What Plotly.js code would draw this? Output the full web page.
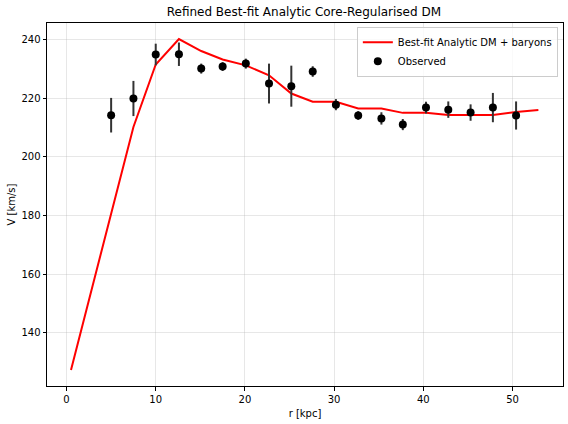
<!DOCTYPE html>
<html>
<head>
<meta charset="utf-8">
<script src="https://cdn.plot.ly/plotly-3.0.1.min.js"></script>
<style>html,body{margin:0;padding:0;background:#fff;}#chart{width:568px;height:424px;}</style>
</head>
<body>
<div id="chart"></div>
<script>
// Observed data
const obsR = [5.0, 7.5, 10.0, 12.6, 15.1, 17.5, 20.1, 22.7, 25.2, 27.6, 30.2, 32.7, 35.3, 37.7, 40.3, 42.8, 45.3, 47.8, 50.4];
const obsV = [214.2, 219.9, 234.9, 235.0, 230.1, 230.8, 231.8, 225.0, 224.1, 229.1, 217.8, 214.1, 213.1, 211.0, 216.8, 216.1, 215.1, 216.8, 214.1];
const obsErr = [5.9, 6.0, 3.7, 4.0, 1.7, 1.5, 1.7, 6.8, 7.0, 1.8, 1.9, 1.5, 2.1, 1.9, 2.0, 2.8, 2.8, 5.0, 4.8];

// Best-fit model curve
const fitR = [0.5, 7.5, 10.0, 12.6, 15.1, 17.5, 20.1, 22.7, 25.2, 27.6, 30.2, 32.7, 35.3, 37.7, 40.3, 42.8, 45.3, 47.8, 50.4, 52.9];
const fitV = [127.3, 210.2, 231.5, 240.2, 236.1, 233.2, 231.2, 227.8, 221.6, 218.8, 218.8, 216.5, 216.5, 215.0, 215.0, 214.3, 214.3, 214.3, 215.3, 216.0];

const xTicks = [0, 10, 20, 30, 40, 50];
const yTicks = [140, 160, 180, 200, 220, 240];

const font = "DejaVu Sans, sans-serif";

const traces = [
  {
    x: fitR, y: fitV, type: 'scatter', mode: 'lines',
    name: 'Best-fit Analytic DM + baryons',
    line: {color: '#ff0000', width: 2}
  },
  {
    x: obsR, y: obsV, type: 'scatter', mode: 'markers',
    name: 'Observed',
    marker: {color: '#000000', size: 8},
    error_y: {type: 'data', array: obsErr, visible: true, color: '#333333', thickness: 2, width: 0}
  }
];

const axisCommon = {
  showline: true, mirror: true, linecolor: '#000', linewidth: 1,
  ticks: 'outside', ticklen: 3.5, tickcolor: '#000', tickwidth: 1,
  showgrid: true, gridcolor: 'rgba(176,176,176,0.3)', gridwidth: 1,
  zeroline: false,
  tickfont: {family: font, size: 10, color: '#000'}
};

const layout = {
  width: 568, height: 424,
  paper_bgcolor: '#fff', plot_bgcolor: '#fff',
  margin: {l: 47, r: 5, t: 23, b: 38},
  font: {family: font, color: '#000'},
  title: {
    text: 'Refined Best-fit Analytic Core-Regularised DM',
    font: {family: font, size: 12, color: '#000'},
    x: 0.535, xanchor: 'center', xref: 'container',
    y: 1 - 12/424, yanchor: 'middle', yref: 'container'
  },
  xaxis: Object.assign({}, axisCommon, {
    range: [-2.19, 55.66],
    tickvals: xTicks,
    title: {text: 'r [kpc]', font: {family: font, size: 10, color: '#000'}, standoff: 6}
  }),
  yaxis: Object.assign({}, axisCommon, {
    range: [121.8, 245.66],
    tickvals: yTicks,
    title: {text: 'V [km/s]', font: {family: font, size: 10, color: '#000'}, standoff: 3}
  }),
  showlegend: true,
  legend: {
    x: 0.99, y: 0.99, xanchor: 'right', yanchor: 'top',
    bgcolor: 'rgba(255,255,255,0.8)', bordercolor: '#cccccc', borderwidth: 1,
    font: {family: font, size: 10, color: '#000'},
    tracegroupgap: 0
  }
};

Plotly.newPlot('chart', traces, layout, {displayModeBar: false, staticPlot: true});
</script>
</body>
</html>
